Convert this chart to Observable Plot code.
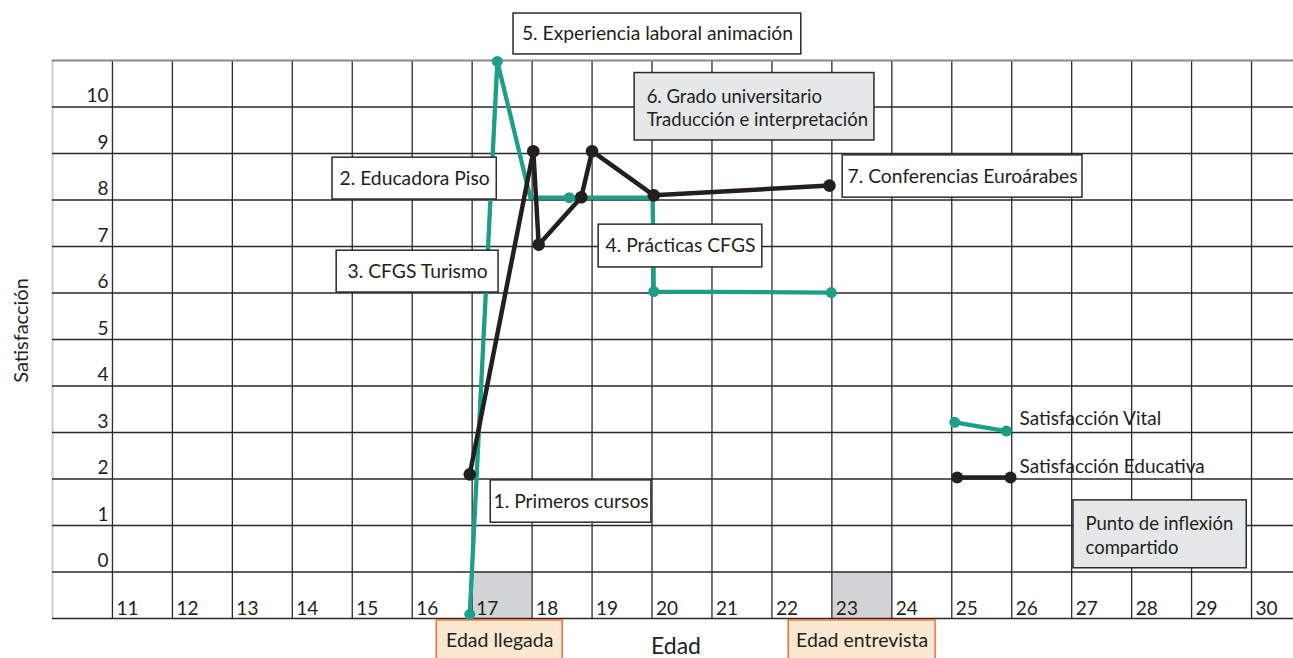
<!DOCTYPE html>
<html>
<head>
<meta charset="utf-8">
<script src="https://cdn.jsdelivr.net/npm/d3@7"></script>
<script src="https://cdn.jsdelivr.net/npm/@observablehq/plot@0.6"></script>
<style>
  html, body { margin: 0; padding: 0; background: #fff; overflow: hidden; }
  #chart svg { display: block; overflow: visible; }
</style>
</head>
<body>
<div id="chart"></div>
<script>
// ---- Tick labels ----
const ageTicks = [11, 12, 13, 14, 15, 16, 17, 18, 19, 20, 21, 22, 23, 24, 25, 26, 27, 28, 29, 30];
const satTicks = [0, 1, 2, 3, 4, 5, 6, 7, 8, 9, 10];

// ---- Satisfacción Vital (green) ----
const vitalAge = [16.96, 17.42, 17.97, 18.62, 20.01, 20.03, 22.99];
const vitalSat = [-0.91, 10.98, 8.05, 8.05, 8.05, 6.03, 6.01];
const vitalMarked = [true, true, false, true, false, true, true];

// ---- Satisfacción Educativa (black) ----
const eduAge = [16.96, 18.02, 18.11, 18.82, 19.00, 20.03, 22.96];
const eduSat = [2.10, 9.05, 7.04, 8.06, 9.05, 8.10, 8.31];

// ---- Legend samples ----
const legendVitalAge = [25.05, 25.91];
const legendVitalSat = [3.22, 3.03];
const legendEduAge = [25.09, 25.98];
const legendEduSat = [2.03, 2.03];
const legendNames = ["Satisfacción Vital", "Satisfacción Educativa"];

// ---- Highlighted ages (arrival / interview) ----
const markedAges = [17, 23];
const markedNames = ["Edad llegada", "Edad entrevista"];

// ---- Event labels ----
const eventLabels = [
  "1. Primeros cursos",
  "2. Educadora Piso",
  "3. CFGS Turismo",
  "4. Prácticas CFGS",
  "5. Experiencia laboral animación",
  "6. Grado universitario\nTraducción e interpretación",
  "7. Conferencias Euroárabes",
  "Punto de inflexión\ncompartido"
];

// ---- annotation layout (data coordinates) ----
const boxLayout = [
  {x1: 17.31, x2: 19.99, y1: 1.06, y2: 1.97, fill: "#ffffff", multi: false},
  {x1: 14.67, x2: 17.41, y1: 8.01, y2: 8.91, fill: "#ffffff", multi: false},
  {x1: 14.74, x2: 17.44, y1: 6.01, y2: 6.91, fill: "#ffffff", multi: false},
  {x1: 19.11, x2: 21.84, y1: 6.55, y2: 7.47, fill: "#ffffff", multi: false},
  {x1: 17.69, x2: 22.49, y1: 11.13, y2: 12.01, fill: "#ffffff", multi: false},
  {x1: 19.71, x2: 23.71, y1: 9.28, y2: 10.73, fill: "#e6e7e8", multi: true},
  {x1: 23.18, x2: 27.18, y1: 8.05, y2: 8.96, fill: "#ffffff", multi: false},
  {x1: 27.03, x2: 29.92, y1: 0.08, y2: 1.54, fill: "#e6e7e8", multi: true}
];
const boxes = eventLabels.map((t, i) => ({text: t, ...boxLayout[i]}));

const ageBoxLayout = [
  {x1: 16.41, x2: 18.51},
  {x1: 22.28, x2: 24.73}
];
const ageBoxes = markedNames.map((t, i) => ({text: t, ...ageBoxLayout[i], y1: -1.04, y2: -1.9}));

const vital = vitalAge.map((a, i) => ({age: a, sat: vitalSat[i], marked: vitalMarked[i]}));
const edu = eduAge.map((a, i) => ({age: a, sat: eduSat[i]}));
const legVital = legendVitalAge.map((a, i) => ({age: a, sat: legendVitalSat[i]}));
const legEdu = legendEduAge.map((a, i) => ({age: a, sat: legendEduSat[i]}));
const legendText = [
  {text: legendNames[0], age: 26.13, sat: 3.30},
  {text: legendNames[1], age: 26.13, sat: 2.27}
];

const GREEN = "#1c9f86";
const BLACK = "#231f20";
const GRID = "#2a2a2a";
const FONT = "Lato, 'Open Sans', sans-serif";

const plot = Plot.plot({
  width: 1293,
  height: 658,
  marginLeft: 52,
  marginRight: 0,
  marginTop: 60,
  marginBottom: 40,
  style: {fontFamily: FONT, fontSize: "18px", color: BLACK, background: "#fff", overflow: "visible"},
  x: {domain: [10, 30.7], axis: null},
  y: {domain: [-1, 11], axis: null},
  marks: [
    // shaded age cells
    Plot.rect(markedAges, {x1: d => d, x2: d => d + 1, y1: () => -1, y2: () => 0, fill: "#d1d3d4"}),
    // grid
    Plot.ruleX(ageTicks, {stroke: GRID, strokeWidth: 1.3}),
    Plot.ruleX([10], {stroke: "#cccccc", strokeWidth: 2}),
    Plot.ruleY(d3.range(-1, 11), {stroke: GRID, strokeWidth: 1.3}),
    Plot.ruleY([11], {stroke: "#8a8a8a", strokeWidth: 2}),
    // tick labels
    Plot.text(ageTicks, {x: d => d, y: () => -1, text: d => String(d), textAnchor: "start", lineAnchor: "bottom", dx: 4, dy: -4, fontSize: 19, fill: BLACK}),
    Plot.text(satTicks, {x: () => 11, y: d => d, text: d => String(d), textAnchor: "end", lineAnchor: "bottom", dx: -4, dy: -5, fontSize: 19, fill: BLACK}),
    // age boxes below
    Plot.rect(ageBoxes, {x1: "x1", x2: "x2", y1: "y1", y2: "y2", fill: "#fde8d2", stroke: "#f26a3b", strokeWidth: 1.5}),
    Plot.text(ageBoxes, {x: d => (d.x1 + d.x2) / 2, y: d => (d.y1 + d.y2) / 2, text: "text", fontSize: 19.5, fill: BLACK}),
    // lines
    Plot.line(vital, {x: "age", y: "sat", stroke: GREEN, strokeWidth: 4.3, strokeLinejoin: "round"}),
    Plot.dot(vital.filter(d => d.marked), {x: "age", y: "sat", r: 5.5, fill: GREEN}),
    Plot.line(edu, {x: "age", y: "sat", stroke: BLACK, strokeWidth: 4.5, strokeLinejoin: "round"}),
    Plot.dot(edu, {x: "age", y: "sat", r: 6.3, fill: BLACK}),
    // legend
    Plot.line(legVital, {x: "age", y: "sat", stroke: GREEN, strokeWidth: 4.3}),
    Plot.dot(legVital, {x: "age", y: "sat", r: 5.5, fill: GREEN}),
    Plot.line(legEdu, {x: "age", y: "sat", stroke: BLACK, strokeWidth: 4.5}),
    Plot.dot(legEdu, {x: "age", y: "sat", r: 6, fill: BLACK}),
    Plot.text(legendText, {x: "age", y: "sat", text: "text", textAnchor: "start", fontSize: 19, fill: BLACK}),
    // event boxes
    Plot.rect(boxes, {x1: "x1", x2: "x2", y1: "y1", y2: "y2", fill: "fill", stroke: "#2b2b2b", strokeWidth: 1.5}),
    Plot.text(boxes.filter(d => !d.multi), {x: d => (d.x1 + d.x2) / 2, y: d => (d.y1 + d.y2) / 2, text: "text", fontSize: 19.3, fill: BLACK}),
    Plot.text(boxes.filter(d => d.multi), {x: "x1", y: d => (d.y1 + d.y2) / 2, text: "text", textAnchor: "start", dx: 12, fontSize: 18.5, lineHeight: 1.27, fill: BLACK}),
    // axis titles
    Plot.text(["Edad"], {frameAnchor: "bottom", text: d => d, textAnchor: "middle", lineAnchor: "bottom", dx: 3, dy: 35, fontSize: 23, fill: BLACK}),
    Plot.text(["Satisfacción"], {frameAnchor: "left", text: d => d, textAnchor: "middle", lineAnchor: "middle", rotate: -90, dx: -31, dy: -9, fontSize: 20, fill: BLACK})
  ]
});
document.getElementById("chart").appendChild(plot);
</script>
</body>
</html>
